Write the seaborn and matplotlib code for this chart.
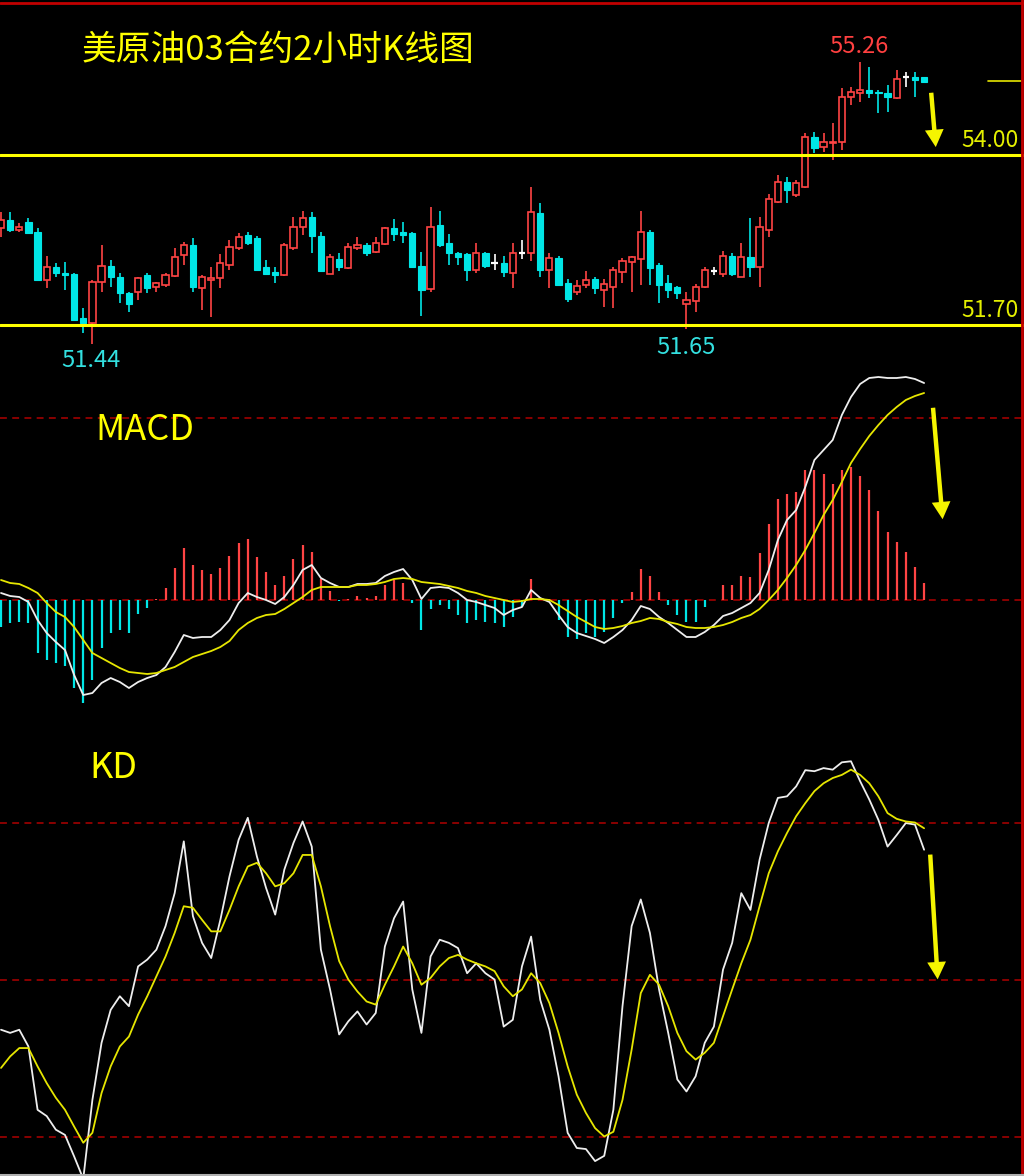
import matplotlib
matplotlib.use('Agg')
import matplotlib.pyplot as plt
import matplotlib.transforms as mtransforms
from matplotlib.patches import Rectangle
from matplotlib.lines import Line2D
import numpy as np
import seaborn as sns

# ---- price data, 2h bars ----
opens = [53.01, 53.12, 52.99, 53.09, 52.96, 52.31, 52.48, 52.40, 52.39, 51.79,
         51.73, 52.28, 52.50, 52.35, 52.13, 52.15, 52.38, 52.21, 52.24, 52.36,
         52.65, 52.78, 52.20, 52.31, 52.34, 52.51, 52.74, 52.92, 52.88, 52.48,
         52.42, 52.38, 52.74, 53.03, 53.16, 52.90, 52.39, 52.59, 52.47, 52.74,
         52.78, 52.69, 52.80, 53.01, 52.96, 52.94, 52.50, 52.19, 53.05, 52.81,
         52.67, 52.66, 52.44, 52.67, 52.54, 52.54, 52.40, 52.67, 52.67, 53.22,
         52.44, 52.61, 52.27, 52.15, 52.24, 52.32, 52.17, 52.21, 52.42, 52.55,
         52.59, 52.96, 52.51, 52.27, 52.21, 51.98, 52.02, 52.21, 52.43, 52.39,
         52.63, 52.35, 52.62, 52.48, 52.99, 53.36, 53.63, 53.46, 53.57, 54.24,
         54.11, 54.16, 54.18, 54.78, 54.84, 54.88, 54.85, 54.84, 54.77, 55.06,
         55.06, 55.06]
highs = [53.23, 53.23, 53.08, 53.15, 53.01, 52.63, 52.54, 52.55, 52.40, 51.93,
         52.31, 52.78, 52.58, 52.40, 52.15, 52.35, 52.40, 52.28, 52.40, 52.74,
         52.82, 52.88, 52.38, 52.48, 52.66, 52.85, 52.94, 52.96, 52.90, 52.58,
         52.48, 52.81, 53.16, 53.24, 53.23, 52.96, 52.66, 52.67, 52.81, 52.89,
         52.81, 52.89, 53.03, 53.13, 53.09, 52.96, 52.69, 53.30, 53.24, 52.93,
         52.69, 52.67, 52.81, 52.69, 52.66, 52.63, 52.81, 52.85, 53.57, 53.35,
         52.67, 52.63, 52.32, 52.31, 52.43, 52.35, 52.32, 52.48, 52.61, 52.63,
         53.24, 52.99, 52.54, 52.38, 52.23, 52.15, 52.25, 52.48, 52.48, 52.70,
         52.67, 52.81, 53.15, 53.16, 53.47, 53.73, 53.70, 53.66, 54.30, 54.31,
         54.30, 54.43, 54.91, 54.92, 55.26, 55.19, 54.88, 54.95, 55.15, 55.12,
         55.12, 55.06]
lows = [52.89, 52.96, 52.96, 52.93, 52.30, 52.20, 52.35, 52.17, 51.75, 51.59,
        51.44, 52.15, 52.21, 52.00, 51.88, 52.04, 52.13, 52.15, 52.21, 52.35,
        52.51, 52.15, 51.90, 51.81, 52.20, 52.44, 52.71, 52.78, 52.43, 52.39,
        52.27, 52.36, 52.71, 52.92, 52.67, 52.42, 52.39, 52.43, 52.46, 52.71,
        52.63, 52.67, 52.78, 52.84, 52.81, 52.47, 51.82, 52.15, 52.76, 52.51,
        52.51, 52.30, 52.40, 52.47, 52.44, 52.35, 52.20, 52.59, 52.57, 52.35,
        52.20, 52.23, 52.01, 52.11, 52.20, 52.12, 51.94, 51.93, 52.27, 52.15,
        52.24, 52.24, 52.00, 52.07, 52.05, 51.65, 51.88, 52.20, 52.38, 52.35,
        52.36, 52.35, 52.35, 52.21, 52.89, 53.35, 53.35, 53.43, 53.55, 54.03,
        54.04, 53.93, 54.07, 54.68, 54.72, 54.77, 54.57, 54.58, 54.76, 54.92,
        54.78, 54.99]
closes = [53.12, 52.99, 53.03, 52.94, 52.31, 52.48, 52.40, 52.38, 51.77, 51.73,
          52.28, 52.50, 52.35, 52.13, 51.98, 52.34, 52.20, 52.27, 52.38, 52.62,
          52.78, 52.21, 52.35, 52.34, 52.54, 52.76, 52.89, 52.81, 52.44, 52.39,
          52.38, 52.78, 53.03, 53.15, 52.90, 52.43, 52.62, 52.48, 52.76, 52.78,
          52.67, 52.81, 53.01, 52.93, 52.92, 52.48, 52.17, 53.03, 52.78, 52.67,
          52.62, 52.44, 52.67, 52.50, 52.54, 52.42, 52.67, 52.67, 53.23, 52.44,
          52.61, 52.24, 52.05, 52.23, 52.31, 52.20, 52.25, 52.44, 52.57, 52.62,
          52.96, 52.47, 52.24, 52.17, 52.13, 52.04, 52.21, 52.44, 52.43, 52.63,
          52.39, 52.62, 52.48, 53.03, 53.40, 53.63, 53.53, 53.62, 54.24, 54.09,
          54.18, 54.18, 54.78, 54.85, 54.88, 54.84, 54.84, 54.78, 55.03, 55.06,
          55.01, 54.99]

# ---- MACD ----
macd_hist = [-0.027, -0.023, -0.022, -0.023, -0.053, -0.060, -0.063, -0.066, -0.088, -0.103,
             -0.080, -0.048, -0.033, -0.030, -0.033, -0.014, -0.008, 0.001, 0.012, 0.032,
             0.052, 0.035, 0.030, 0.026, 0.032, 0.044, 0.057, 0.061, 0.043, 0.028,
             0.015, 0.024, 0.041, 0.055, 0.048, 0.021, 0.009, -0.001, 0.001, 0.004,
             0.002, 0.004, 0.015, 0.020, 0.017, -0.003, -0.030, -0.009, -0.005, -0.009,
             -0.015, -0.023, -0.020, -0.022, -0.023, -0.027, -0.017, -0.007, 0.021, 0.000,
             0.001, -0.020, -0.037, -0.039, -0.033, -0.037, -0.032, -0.018, -0.003, 0.008,
             0.031, 0.024, 0.008, -0.005, -0.015, -0.022, -0.022, -0.007, 0.000, 0.015,
             0.015, 0.024, 0.023, 0.047, 0.076, 0.101, 0.106, 0.108, 0.130, 0.130,
             0.126, 0.116, 0.130, 0.133, 0.124, 0.110, 0.089, 0.068, 0.058, 0.048,
             0.033, 0.017]
dif = [0.007, 0.004, 0.003, -0.002, -0.020, -0.033, -0.042, -0.050, -0.075, -0.095,
       -0.093, -0.083, -0.078, -0.082, -0.088, -0.082, -0.078, -0.075, -0.067, -0.052,
       -0.035, -0.038, -0.037, -0.037, -0.030, -0.020, -0.003, 0.007, 0.003, 0.000,
       -0.004, 0.003, 0.015, 0.030, 0.035, 0.022, 0.017, 0.013, 0.013, 0.016,
       0.016, 0.017, 0.024, 0.028, 0.031, 0.020, 0.001, 0.012, 0.013, 0.012,
       0.007, 0.000, -0.002, -0.005, -0.008, -0.015, -0.010, -0.007, 0.010, 0.002,
       -0.002, -0.015, -0.027, -0.033, -0.036, -0.039, -0.043, -0.037, -0.030, -0.020,
       -0.006, -0.009, -0.017, -0.023, -0.030, -0.037, -0.037, -0.032, -0.025, -0.016,
       -0.013, -0.008, -0.003, 0.007, 0.030, 0.060, 0.080, 0.090, 0.113, 0.140,
       0.150, 0.160, 0.185, 0.203, 0.216, 0.222, 0.223, 0.222, 0.222, 0.223,
       0.221, 0.217]
dea = [0.020, 0.017, 0.016, 0.012, 0.007, -0.003, -0.012, -0.017, -0.027, -0.040,
       -0.053, -0.058, -0.063, -0.068, -0.072, -0.073, -0.074, -0.073, -0.070, -0.067,
       -0.062, -0.057, -0.054, -0.051, -0.047, -0.041, -0.030, -0.023, -0.018, -0.015,
       -0.014, -0.009, -0.003, 0.003, 0.010, 0.013, 0.013, 0.013, 0.013, 0.015,
       0.015, 0.016, 0.018, 0.021, 0.022, 0.021, 0.018, 0.017, 0.016, 0.014,
       0.012, 0.009, 0.007, 0.004, 0.002, 0.000, -0.002, -0.001, 0.001, 0.001,
       0.000, -0.005, -0.011, -0.017, -0.022, -0.027, -0.029, -0.028, -0.026, -0.023,
       -0.021, -0.018, -0.019, -0.022, -0.024, -0.027, -0.028, -0.028, -0.027, -0.025,
       -0.022, -0.018, -0.015, -0.009, 0.000, 0.010, 0.022, 0.035, 0.050, 0.067,
       0.085, 0.100, 0.118, 0.137, 0.151, 0.164, 0.175, 0.185, 0.193, 0.200,
       0.204, 0.207]

# ---- KD ----
k_line = [40.5, 39.9, 40.5, 37.3, 25.2, 24.0, 21.4, 20.4, 16.3, 12.0,
          27.1, 38.0, 44.3, 46.9, 45.0, 52.6, 53.9, 55.8, 60.3, 66.6,
          76.5, 62.2, 57.1, 54.2, 61.5, 69.8, 76.8, 81.0, 73.6, 67.6,
          62.5, 71.1, 76.2, 80.3, 75.5, 55.8, 48.2, 39.6, 42.1, 44.0,
          41.5, 43.7, 56.4, 61.8, 65.0, 48.2, 39.9, 54.5, 57.7, 57.1,
          56.1, 51.3, 53.2, 51.3, 50.1, 41.1, 42.4, 52.6, 58.3, 46.2,
          40.5, 31.6, 20.8, 17.9, 17.7, 15.4, 16.4, 25.2, 45.0, 60.3,
          65.4, 59.0, 48.2, 39.9, 31.0, 28.7, 31.6, 38.0, 41.1, 52.0,
          57.1, 66.6, 63.4, 73.0, 80.0, 84.8, 85.1, 87.0, 90.1, 89.9,
          90.5, 90.2, 91.6, 91.8, 88.0, 84.5, 80.6, 75.5, 77.7, 80.0,
          79.7, 74.9]
d_line = [33.2, 35.4, 37.0, 37.0, 33.5, 30.3, 27.5, 25.2, 22.0, 18.9,
          20.8, 28.4, 33.5, 37.3, 39.2, 43.4, 46.9, 50.7, 54.5, 59.0,
          64.1, 63.8, 61.5, 59.3, 59.3, 63.4, 67.9, 71.7, 72.4, 70.4,
          67.9, 68.5, 70.4, 73.9, 73.9, 67.9, 60.3, 53.6, 50.1, 47.8,
          45.9, 45.3, 49.1, 52.6, 56.4, 53.2, 49.1, 50.4, 52.6, 54.2,
          54.8, 53.9, 53.2, 52.6, 51.7, 48.8, 46.9, 48.2, 51.3, 49.4,
          45.6, 39.9, 33.5, 28.1, 24.6, 21.7, 20.1, 21.0, 27.1, 36.7,
          47.5, 51.0, 49.1, 45.0, 39.9, 36.4, 34.8, 36.1, 38.0, 43.1,
          48.2, 53.2, 57.7, 64.1, 70.4, 74.6, 78.1, 81.3, 83.8, 86.1,
          87.6, 88.6, 89.2, 90.2, 89.2, 87.6, 85.1, 81.9, 80.8, 80.3,
          80.1, 79.0]

support = 51.70
resistance = 54.00
last_mark = 55.00
macd_level = 0.182
kd_levels = [80, 50, 20]

up_col = '#ff4444'
dn_col = '#00e6e6'
yellow = '#ffff00'
grid_red = '#b00000'

sns.set_style('dark', {'axes.facecolor': 'black', 'figure.facecolor': 'black'})
plt.rcParams['font.family'] = ['Noto Sans CJK SC', 'DejaVu Sans']

W, H = 1024, 1176
fig = plt.figure(figsize=(W / 100, H / 100), dpi=100, facecolor='black')
idx = np.arange(len(opens))
xlim = (-0.11, 111.93)

ax1 = fig.add_axes([0, 1 - 350 / H, 1, 342 / H])
ax2 = fig.add_axes([0, 1 - 710 / H, 1, 360 / H])
ax3 = fig.add_axes([0, 0, 1, 466 / H])
for ax in (ax1, ax2, ax3):
    ax.set_facecolor('none')
    ax.set_xlim(*xlim)

# ---- candlesticks ----
bw = 0.68
for i, o, h, l, c in zip(idx, opens, highs, lows, closes):
    top, bot = max(o, c), min(o, c)
    if c > o:
        ax1.vlines(i, top, h, color=up_col, lw=1.2)
        ax1.vlines(i, l, bot, color=up_col, lw=1.2)
        ax1.add_patch(Rectangle((i - bw / 2, bot), bw, top - bot,
                                facecolor='black', edgecolor=up_col, lw=1.2))
    elif c < o:
        ax1.vlines(i, l, h, color=dn_col, lw=1.2)
        ax1.add_patch(Rectangle((i - bw / 2, bot), bw, top - bot,
                                facecolor=dn_col, edgecolor=dn_col, lw=0.8))
    else:
        ax1.vlines(i, l, h, color='white', lw=1.2)
        ax1.hlines(o, i - bw / 2, i + bw / 2, color='white', lw=1.6)

ax1.axhline(resistance, color=yellow, lw=2.2)
ax1.axhline(support, color=yellow, lw=2.2)
ax1.axhline(last_mark, xmin=0.965, xmax=0.997, color='#e6e600', lw=1.2)
ax1.set_ylim(51.36, 55.99)

trans1 = mtransforms.blended_transform_factory(ax1.transAxes, ax1.transData)
ax1.text(0.995, resistance + 0.04, f'{resistance:.2f}', transform=trans1,
         ha='right', va='bottom', color='#e4f000', fontsize=16.5)
ax1.text(0.995, support + 0.04, f'{support:.2f}', transform=trans1,
         ha='right', va='bottom', color='#e4f000', fontsize=16.5)

hi_i = int(np.argmax(highs))
ax1.text(hi_i - 0.1, highs[hi_i] + 0.05, f'{highs[hi_i]:.2f}', ha='center', va='bottom',
         color='#ff4040', fontsize=17)
lo_i = int(np.argmin(lows))
ax1.text(lo_i - 0.2, lows[lo_i] - 0.07, f'{lows[lo_i]:.2f}', ha='center', va='top',
         color='#33e0e0', fontsize=17)
lo2_i = 60 + int(np.argmin(lows[60:]))
ax1.text(lo2_i - 0.1, lows[lo2_i] - 0.10, f'{lows[lo2_i]:.2f}', ha='center', va='top',
         color='#33e0e0', fontsize=17)

ax1.text(0.08, 0.877, '美原油03合约2小时K线图', transform=ax1.transAxes,
         ha='left', va='center', color=yellow, fontsize=25)

arrow_kw = dict(arrowstyle='simple,tail_width=0.32,head_width=1.35,head_length=1.25',
                color='#f5f500', lw=0)
ax1.annotate('', xy=(102.3, 54.07), xytext=(101.75, 54.88), arrowprops=arrow_kw)

# ---- MACD ----
dash = (0, (4.5, 3.5))
ax2.axhline(0, color=grid_red, lw=1.1, ls=dash)
ax2.axhline(macd_level, color=grid_red, lw=1.1, ls=dash)
hist_cols = [up_col if v > 0 else dn_col for v in macd_hist]
ax2.vlines(idx, 0, macd_hist, colors=hist_cols, lw=1.6)
sns.lineplot(x=idx, y=dif, ax=ax2, color='#eeeeee', lw=1.3, legend=False)
sns.lineplot(x=idx, y=dea, ax=ax2, color='#e6e600', lw=1.3, legend=False)
ax2.set_ylim(-0.110, 0.250)
ax2.text(0.093, 0.778, 'MACD', transform=ax2.transAxes, ha='left', va='center',
         color=yellow, fontsize=26)
ax2.annotate('', xy=(103.05, 0.078), xytext=(101.95, 0.195), arrowprops=arrow_kw)

# ---- KD ----
for lv in kd_levels:
    ax3.axhline(lv, color=grid_red, lw=1.1, ls=dash)
sns.lineplot(x=idx, y=k_line, ax=ax3, color='#eeeeee', lw=1.3, legend=False)
sns.lineplot(x=idx, y=d_line, ax=ax3, color='#e6e600', lw=1.3, legend=False)
ax3.set_ylim(12.55, 101.6)
ax3.text(0.087, 0.8755, 'KD', transform=ax3.transAxes, ha='left', va='center',
         color=yellow, fontsize=26)
ax3.annotate('', xy=(102.5, 49.6), xytext=(101.65, 74.5), arrowprops=arrow_kw)

for ax in (ax1, ax2, ax3):
    ax.axis('off')

# frame lines
fig.add_artist(Line2D([0, 1], [1 - 2.5 / H] * 2, color='#c00000', lw=2,
                      transform=fig.transFigure))
fig.add_artist(Line2D([1021.5 / W] * 2, [0, 1], color='#c00000', lw=2,
                      transform=fig.transFigure))
fig.add_artist(Line2D([0, 1], [1.5 / H] * 2, color='#b0b0b0', lw=1.5,
                      transform=fig.transFigure))

fig.savefig('out.png', dpi=100, facecolor='black')
